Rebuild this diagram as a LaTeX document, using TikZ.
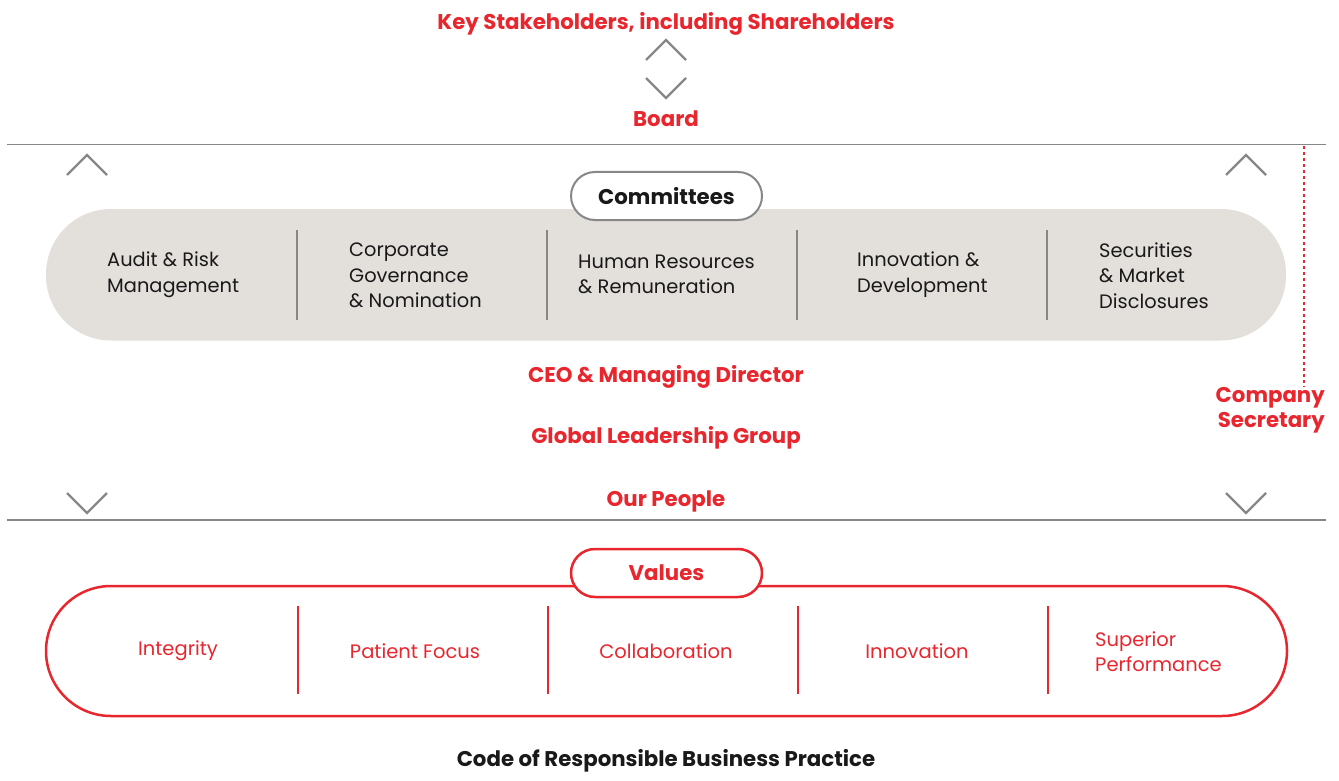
\documentclass[tikz,border=0pt]{standalone}
\usepackage{fontspec}
\setmainfont{Poppins}
\definecolor{cRed}{RGB}{232,38,46}
\definecolor{cGray}{RGB}{135,135,135}
\definecolor{cFill}{RGB}{227,224,220}
\definecolor{cText}{RGB}{25,25,25}
\tikzset{
  redtitle/.style={inner sep=0pt, text=cRed, font=\bfseries\fontsize{21.3}{25}\selectfont},
  blacktitle/.style={inner sep=0pt, text=cText, font=\bfseries\fontsize{21.3}{25}\selectfont},
  body/.style={inner sep=0pt, anchor=west, align=left, text=cText, font=\fontsize{19.4}{25.5}\selectfont},
  valtext/.style={inner sep=0pt, align=left, text=cRed, font=\fontsize{19.5}{25.5}\selectfont},
  chev/.style={draw=cGray, line width=2.2pt},
  rule/.style={draw=cGray, line width=1.4pt},
  divg/.style={draw=cGray, line width=1.4pt},
  divr/.style={draw=cRed, line width=1.6pt},
  pilllabel/.style={line width=2pt, fill=white, minimum width=191pt, minimum height=48pt, rounded corners=24pt, inner sep=0pt},
}
\begin{document}
\begin{tikzpicture}[x=1pt,y=-1pt]
\useasboundingbox (0,0) rectangle (1339,781);
% top
\node[redtitle] (stake) at (666,23.5) {Key Stakeholders, including Shareholders};
\draw[chev] (646,60) -- (666,40) -- (686,60);
\draw[chev] (646,78) -- (666,98) -- (686,78);
\node[redtitle] (board) at (666,118.5) {Board};
\draw[rule] (7,144.5) -- (1326,144.5);
% side chevrons
\draw[chev] (67,175) -- (87,155) -- (107,175);
\draw[chev] (1226,175) -- (1246,155) -- (1266,175);
\draw[chev] (67,493) -- (87,513) -- (107,493);
\draw[chev] (1226,493) -- (1246,513) -- (1266,493);
% committees
\fill[cFill, rounded corners=65pt] (46,209) rectangle (1286,340.5);
\node[pilllabel, draw=cGray, blacktitle] (comm) at (666.5,196) {Committees};
\foreach \x in {297,547,797,1047} \draw[divg] (\x,230) -- (\x,320);
\node[body] (c1) at (107,274.5) {Audit \& Risk\\Management};
\node[body] (c2) at (349,275.5) {Corporate\\Governance\\\& Nomination};
\node[body] (c3) at (578,274.5) {Human Resources\\\& Remuneration};
\node[body] (c4) at (857,274.5) {Innovation \&\\Development};
\node[body] (c5) at (1099,275.5) {Securities\\\& Market\\Disclosures};
% leadership
\node[redtitle] (ceo) at (666,377) {CEO \& Managing Director};
\node[redtitle] (glg) at (666,438) {Global Leadership Group};
\node[redtitle] (people) at (666,501) {Our People};
\draw[rule] (7,520) -- (1326,520);
% company secretary
\node[redtitle, align=right, anchor=east, font=\bfseries\fontsize{21.3}{25}\selectfont] (cs) at (1325,410.5) {Company\\Secretary};
\coordinate (csTop) at (1304,146);
\draw[cRed, line width=1.3pt, dash pattern=on 3pt off 3pt] (csTop) -- (csTop |- cs.north);
% values
\draw[cRed, line width=2.5pt, rounded corners=65pt] (46,586) rectangle (1287,716);
\node[pilllabel, draw=cRed, redtitle, line width=2.5pt] (vals) at (666.5,573) {Values};
\foreach \x in {298,548,798,1048} \draw[divr] (\x,606) -- (\x,694);
\node[valtext] (v1) at (178,651) {Integrity};
\node[valtext] (v2) at (415,651) {Patient Focus};
\node[valtext] (v3) at (666,651) {Collaboration};
\node[valtext] (v4) at (917,651) {Innovation};
\node[valtext, anchor=west] (v5) at (1095,651.5) {Superior\\Performance};
\node[blacktitle] (code) at (666,761) {Code of Responsible Business Practice};
\end{tikzpicture}
\end{document}
